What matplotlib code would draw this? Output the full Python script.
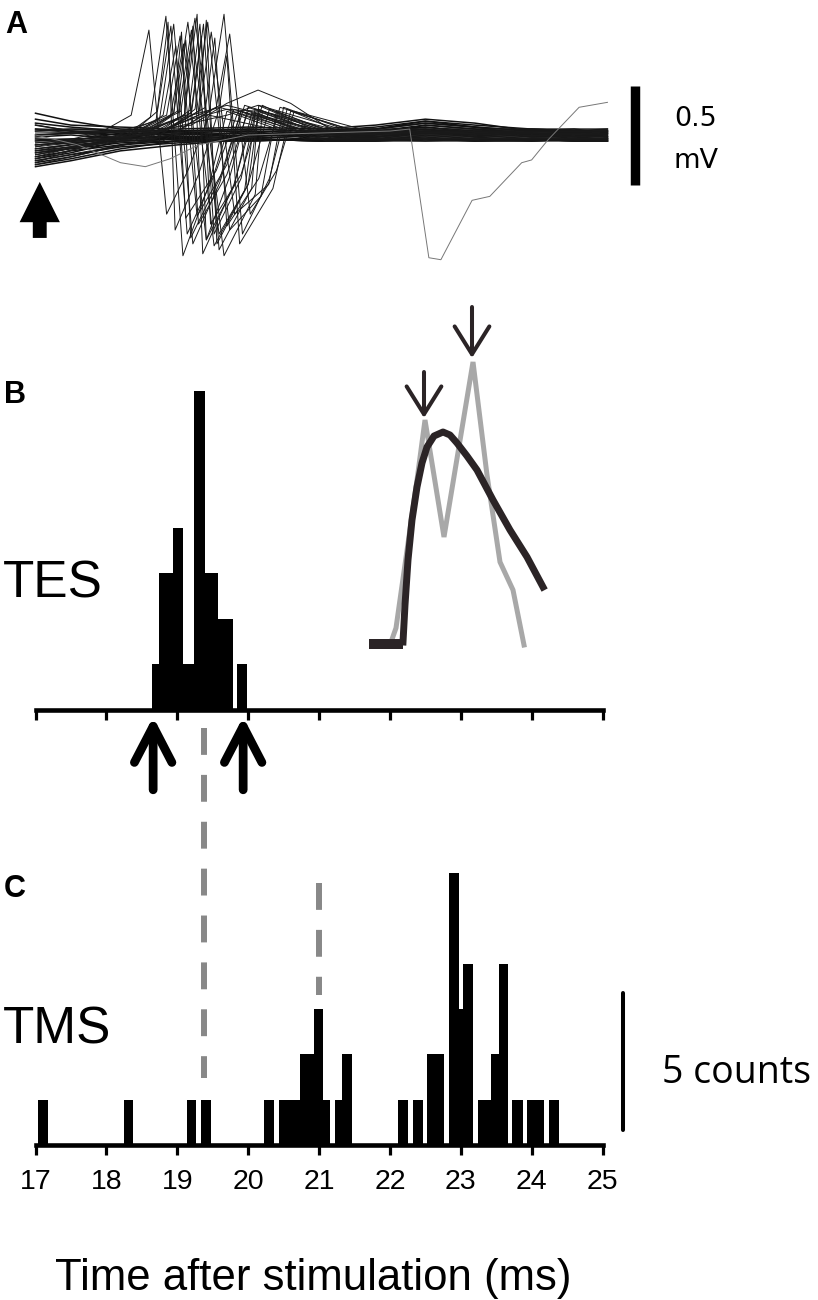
import numpy as np
import matplotlib
matplotlib.use('Agg')
import matplotlib.pyplot as plt

plt.rcParams['font.family'] = ['Liberation Sans', 'DejaVu Sans']

W, H = 818, 1300

#%% Data

# Panel A: spiking sweeps, key points (time ms, mV)
# columns: v0, t_rise, t_pre, v_pre, t_pk, v_pk, t_tr, v_tr, t_rec, v_rec, t_hump, v_hump, t_end, offset
spikes_a = np.array([
    [-0.06, 17.9, 18.35, 0.10, 18.60, 0.53, 18.85, -0.40, 19.15, -0.18, 19.45, 0.10, 20.6, 0.01],
    [-0.10, 18.2, 18.62, 0.09, 18.84, 0.60, 19.08, -0.61, 19.45, -0.25, 19.70, 0.12, 20.8, -0.02],
    [0.02, 18.2, 18.70, 0.07, 18.87, 0.57, 18.97, -0.48, 19.30, -0.20, 19.60, 0.14, 20.7, 0.02],
    [-0.12, 18.3, 18.72, 0.12, 18.91, 0.55, 19.14, -0.50, 19.50, -0.22, 19.80, 0.13, 20.9, -0.01],
    [-0.04, 18.3, 18.75, 0.08, 18.95, 0.56, 19.22, -0.55, 19.60, -0.24, 19.90, 0.12, 21.0, 0.00],
    [-0.14, 18.4, 18.85, 0.10, 19.04, 0.50, 19.28, -0.41, 19.70, -0.15, 19.95, 0.15, 21.0, 0.03],
    [0.05, 18.4, 18.90, 0.09, 19.09, 0.46, 19.41, -0.53, 19.80, -0.26, 20.05, 0.11, 21.1, -0.03],
    [-0.08, 18.4, 18.95, 0.11, 19.15, 0.57, 19.52, -0.56, 19.95, -0.28, 20.10, 0.10, 21.2, 0.01],
    [-0.02, 18.5, 19.00, 0.08, 19.20, 0.53, 19.59, -0.50, 20.00, -0.25, 20.15, 0.13, 21.2, -0.02],
    [-0.11, 18.5, 19.05, 0.12, 19.25, 0.59, 19.66, -0.61, 20.10, -0.30, 20.20, 0.12, 21.3, 0.02],
    [-0.05, 18.5, 19.10, 0.10, 19.28, 0.61, 19.41, -0.53, 19.75, -0.20, 20.00, 0.14, 21.1, 0.00],
    [-0.09, 18.6, 19.15, 0.09, 19.32, 0.56, 19.52, -0.50, 19.90, -0.22, 20.10, 0.11, 21.2, -0.01],
    [0.00, 18.6, 19.20, 0.11, 19.37, 0.56, 19.59, -0.58, 20.05, -0.27, 20.15, 0.15, 21.3, 0.03],
    [-0.13, 18.7, 19.25, 0.13, 19.43, 0.57, 19.74, -0.48, 20.18, -0.31, 20.40, 0.12, 21.4, -0.02],
    [-0.07, 18.7, 19.30, 0.10, 19.48, 0.52, 19.81, -0.40, 20.29, -0.25, 20.50, 0.14, 21.5, 0.01],
    [-0.03, 18.8, 19.45, 0.12, 19.66, 0.61, 19.92, -0.50, 20.30, -0.22, 20.55, 0.13, 21.6, -0.03],
    [-0.10, 18.8, 19.55, 0.14, 19.74, 0.51, 20.03, -0.40, 20.40, -0.18, 20.65, 0.12, 21.7, 0.02],
    [-0.06, 18.5, 19.00, 0.12, 19.12, 0.48, 19.30, -0.45, 19.70, -0.20, 20.00, 0.12, 21.0, 0.00],
    [0.01, 18.6, 19.10, 0.10, 19.22, 0.55, 19.36, -0.60, 19.80, -0.25, 20.10, 0.13, 21.1, 0.02],
    [-0.08, 18.6, 19.20, 0.13, 19.34, 0.50, 19.47, -0.45, 19.90, -0.20, 20.20, 0.15, 21.2, -0.02],
    [-0.12, 18.5, 18.95, 0.11, 19.06, 0.52, 19.19, -0.52, 19.60, -0.22, 19.90, 0.12, 20.9, 0.01],
    [-0.04, 18.7, 19.30, 0.12, 19.41, 0.58, 19.56, -0.55, 20.00, -0.25, 20.30, 0.13, 21.4, -0.01],
    [-0.10, 18.8, 19.40, 0.14, 19.53, 0.49, 19.70, -0.46, 20.15, -0.22, 20.45, 0.14, 21.5, 0.02],
    [0.03, 18.3, 18.80, 0.10, 18.98, 0.45, 19.12, -0.42, 19.55, -0.18, 19.85, 0.11, 20.9, -0.02],
    [-0.15, 18.9, 19.60, 0.15, 19.70, 0.40, 19.88, -0.55, 20.35, -0.27, 20.60, 0.12, 21.7, 0.00],
])

# Panel A: non-spiking sweeps forming the baseline band
band_t = [17.0, 17.5, 18.2, 19.0, 20.0, 21.0, 21.8, 22.5, 23.2, 24.0, 24.6, 25.07]
band_v = [
    [0.11, 0.07, 0.03, 0.02, 0.03, 0.02, 0.04, 0.07, 0.05, 0.03, 0.02, 0.02],
    [0.06, 0.04, 0.02, 0.01, 0.02, 0.01, 0.03, 0.06, 0.04, 0.02, 0.03, 0.01],
    [0.03, 0.02, 0.01, 0.00, 0.01, 0.00, 0.02, 0.05, 0.03, 0.01, 0.00, 0.00],
    [0.00, 0.01, 0.00, -0.01, 0.00, -0.01, 0.01, 0.04, 0.02, 0.00, 0.01, -0.01],
    [-0.03, -0.02, -0.01, -0.02, -0.01, -0.02, 0.00, 0.03, 0.01, -0.01, -0.01, -0.02],
    [-0.05, -0.04, -0.02, -0.01, -0.02, -0.03, -0.01, 0.02, 0.00, -0.02, -0.02, -0.03],
    [-0.07, -0.05, -0.03, -0.02, -0.03, -0.02, -0.02, 0.01, -0.01, -0.03, -0.02, -0.02],
    [-0.09, -0.07, -0.04, -0.03, -0.02, -0.03, -0.03, 0.00, -0.02, -0.02, -0.03, -0.03],
    [-0.11, -0.08, -0.05, -0.03, -0.03, -0.02, -0.02, -0.01, -0.03, -0.03, -0.02, -0.02],
    [-0.13, -0.10, -0.06, -0.04, -0.02, -0.03, -0.03, -0.02, -0.03, -0.02, -0.03, -0.03],
    [-0.15, -0.12, -0.07, -0.03, -0.03, -0.02, -0.02, -0.03, -0.02, -0.03, -0.02, -0.02],
    [-0.16, -0.13, -0.08, -0.05, -0.02, -0.03, -0.03, -0.02, -0.03, -0.02, -0.03, -0.03],
    [0.08, 0.05, 0.04, 0.03, 0.04, 0.03, 0.05, 0.08, 0.06, 0.02, 0.02, 0.03],
    [0.02, 0.03, 0.02, 0.02, 0.03, 0.02, 0.03, 0.06, 0.04, 0.02, 0.01, 0.02],
    [-0.02, -0.03, 0.01, 0.01, -0.01, 0.01, 0.02, 0.04, 0.01, 0.01, -0.02, 0.01],
    [-0.08, -0.06, -0.02, 0.00, 0.01, -0.01, 0.00, 0.05, 0.03, -0.01, 0.00, -0.01],
    [-0.12, -0.09, -0.03, -0.02, 0.02, 0.01, -0.01, 0.02, 0.02, 0.01, -0.01, 0.01],
    [0.05, 0.02, 0.00, 0.02, -0.02, 0.00, 0.02, 0.03, -0.01, 0.02, 0.02, 0.00],
    [-0.14, -0.11, -0.05, -0.01, 0.00, 0.02, 0.03, 0.07, 0.04, 0.00, 0.01, 0.02],
    [-0.01, 0.00, -0.02, 0.02, 0.02, -0.02, -0.01, 0.01, 0.00, 0.03, 0.02, -0.01],
]
# sweeps with a late positive hump
hump_t = [17.0, 18.6, 19.2, 19.7, 20.14, 20.6, 21.2, 25.07]
hump_v = [
    [0.00, 0.02, 0.05, 0.16, 0.227, 0.16, 0.02, 0.00],
    [-0.05, 0.00, 0.08, 0.13, 0.12, 0.06, 0.01, 0.01],
    [-0.09, 0.01, 0.06, 0.10, 0.15, 0.08, 0.02, -0.01],
    [0.03, 0.03, 0.10, 0.15, 0.11, 0.04, 0.00, 0.02],
]
# lone late sweep (grey)
late_t = [17.0, 17.6, 18.2, 18.55, 18.9, 19.3, 20.0, 22.0, 22.28, 22.55, 22.72,
          23.16, 23.41, 23.86, 24.0, 24.23, 24.67, 25.07]
late_v = [0.0, -0.05, -0.14, -0.16, -0.12, -0.05, 0.0, 0.02, 0.03, -0.62, -0.63,
          -0.33, -0.31, -0.14, -0.126, -0.025, 0.14, 0.165]
stim_t = 17.06

# Panel B: TES histogram (bin edges in ms, counts)
tes_left = [18.64, 18.745, 18.94, 19.08, 19.24, 19.385, 19.575, 19.84]
tes_right = [18.745, 18.94, 19.08, 19.24, 19.385, 19.575, 19.78, 19.985]
tes_count = [1, 3, 4, 1, 7, 3, 2, 1]
tes_limits = [18.66, 19.93]

# Panel B inset: histogram profile (grey) and fitted curve (black), arbitrary units
prof_x = [2.1, 2.7, 4.8, 5.6, 7.5, 10.4, 11.8, 13.1, 14.4, 15.5]
prof_y = [0.0, 1.7, 16.5, 22.5, 10.8, 28.3, 17.0, 8.3, 5.5, 0.0]
fit_x = [3.4, 3.6, 3.9, 4.3, 4.8, 5.3, 5.8, 6.5, 7.4, 8.1, 8.8, 9.8, 10.8,
         12.4, 14.1, 15.8, 17.4]
fit_y = [0.3, 4.0, 8.5, 12.5, 15.8, 18.2, 19.8, 20.9, 21.3, 21.0, 20.2, 18.9,
         17.5, 14.5, 11.5, 8.8, 5.8]
fit_base_x = [0.0, 3.4]
fit_base_y = [0.1, 0.1]
peak_x = [5.5, 10.3]
peak_y = [22.7, 28.7]

# Panel C: TMS histogram (bin start, bin end in ms, counts)
tms_left = [17.03, 18.25, 19.14, 19.33, 20.23, 20.44, 20.73, 20.93, 21.05,
            21.23, 21.32, 22.12, 22.33, 22.52, 22.83, 22.97, 23.03, 23.24,
            23.43, 23.54, 23.73, 23.94, 24.24]
tms_right = [17.17, 18.37, 19.27, 19.47, 20.37, 20.73, 20.93, 21.05, 21.16,
             21.32, 21.46, 22.26, 22.47, 22.77, 22.97, 23.03, 23.17, 23.43,
             23.54, 23.67, 23.88, 24.18, 24.38]
tms_count = [1, 1, 1, 1, 1, 1, 2, 3, 1,
             1, 2, 1, 1, 2, 6, 3, 4, 1,
             2, 4, 1, 1, 1]
tes_mode = 19.38
tms_mode = 21.0
ticks = list(range(17, 26))

#%% Figure
fig = plt.figure(figsize=(W / 100, H / 100), dpi=100)


def px_axes(x0, y0, x1, y1):
    return fig.add_axes([x0 / W, 1 - y1 / H, (x1 - x0) / W, (y1 - y0) / H])


def ftext(x, y, s, **kw):
    fig.text(x / W, 1 - y / H, s, **kw)


# ---- A ----
axA = px_axes(35.5, 0, 602.5, 270)
axA.set_xlim(17, 25)
axA.set_ylim(-0.682, 0.682)
axA.axis('off')
tr_kw = dict(color='#1a1a1a', lw=0.7, clip_on=False)
for row in band_v:
    axA.plot(band_t, row, color='#111111', lw=1.1, clip_on=False)
for r in spikes_a:
    (v0, t_rise, t_pre, v_pre, t_pk, v_pk, t_tr, v_tr, t_rec, v_rec,
     t_hu, v_hu, t_end, off) = r
    axA.plot([17.0, t_rise, t_pre, t_pk, t_tr, t_rec, t_hu, t_end, 25.07],
             [v0, off, v_pre, v_pk, v_tr, v_rec, v_hu, off, off], **tr_kw)
for row in hump_v:
    axA.plot(hump_t, row, **tr_kw)
axA.plot(late_t, late_v, color='#777777', lw=0.7, clip_on=False)
# scale bar 0.5 mV
axA.plot([25.46, 25.46], [-0.253, 0.247], color='black', lw=6.8,
         solid_capstyle='butt', clip_on=False)
axA.annotate('', xy=(stim_t, -0.237), xytext=(stim_t, -0.52),
             arrowprops=dict(arrowstyle='simple,head_length=2.9,head_width=2.9,tail_width=1.0',
                             mutation_scale=10, color='black', lw=0,
                             shrinkA=0, shrinkB=0),
             annotation_clip=False)

# ---- B ----
axB = px_axes(35.5, 300, 602.5, 710)
axB.set_xlim(17, 25)
axB.set_ylim(0, 410 / 45.6)
axB.bar(tes_left, tes_count, width=np.array(tes_right) - np.array(tes_left),
        align='edge', color='black', linewidth=0)
for t in tes_limits:
    axB.annotate('', xy=(t, -0.15), xytext=(t, -1.75),
                 arrowprops=dict(arrowstyle='->,head_length=2.6,head_width=1.35',
                                 mutation_scale=10, color='black', lw=6.3,
                                 shrinkA=0, shrinkB=0),
                 annotation_clip=False)

# ---- C ----
axC = px_axes(35.5, 850, 602.5, 1145)
axC.set_xlim(17, 25)
axC.set_ylim(0, 295 / 45.3)
axC.bar(tms_left, tms_count, width=np.array(tms_right) - np.array(tms_left),
        align='edge', color='black', linewidth=0)
axC.plot([tes_mode, tes_mode], [9.2, 1.48], color='#888888', lw=4.3,
         dashes=(4.5, 3.35), solid_capstyle='butt', clip_on=False)
axC.plot([tms_mode, tms_mode], [5.78, 3.31], color='#888888', lw=4.3,
         dashes=(4.5, 3.35), clip_on=False)
# scale bar 5 counts
axC.plot([25.285, 25.285], [0.33, 3.36], color='black', lw=2.9,
         solid_capstyle='round', clip_on=False)

for ax in (axB, axC):
    for side in ('left', 'top', 'right'):
        ax.spines[side].set_visible(False)
    ax.spines['bottom'].set_linewidth(3.3)
    ax.set_yticks([])
    ax.set_xticks(ticks)
    ax.tick_params(axis='x', length=7, width=2.3, direction='out')
    ax.patch.set_alpha(0)
axB.set_xticklabels([])
axC.set_xticklabels([str(t) for t in ticks], fontsize=20.5)
axC.tick_params(axis='x', pad=10)

# ---- B inset ----
axI = px_axes(360, 300, 560, 660)
axI.set_xlim(-0.9, 19.1)
axI.set_ylim(-1.5, 34.5)
axI.axis('off')
axI.plot(prof_x, prof_y, color='#a8a8a8', lw=3.6, solid_joinstyle='miter')
axI.plot(fit_base_x, fit_base_y, color='#2b2426', lw=7.2, solid_capstyle='butt')
axI.plot(fit_x, fit_y, color='#2b2426', lw=5)
for px, py, hl in zip(peak_x, peak_y, (4.6, 5.1)):
    axI.annotate('', xy=(px, py), xytext=(px, py + hl),
                 arrowprops=dict(arrowstyle='->,head_length=2.0,head_width=1.25',
                                 mutation_scale=10, color='#2b2426', lw=2.9,
                                 shrinkA=0, shrinkB=0),
                 annotation_clip=False)

# ---- texts ----
ftext(5, 33, 'A', fontsize=22, fontweight='bold', va='baseline')
ftext(4, 403, 'B', fontsize=22, fontweight='bold', va='baseline')
ftext(4, 897, 'C', fontsize=22, fontweight='bold', va='baseline')
ftext(3, 597, 'TES', fontsize=37, va='baseline')
ftext(3, 1043, 'TMS', fontsize=37, va='baseline')
ftext(674, 126, '0.5', fontsize=19.5, family='DejaVu Sans', va='baseline')
ftext(674, 168, 'mV', fontsize=19.5, family='DejaVu Sans', va='baseline')
ftext(662, 1083, '5 counts', fontsize=27, family='Open Sans', va='baseline')
ftext(313, 1290, 'Time after stimulation (ms)', fontsize=31.5, ha='center',
      va='baseline')

fig.savefig('out.png', dpi=100)
